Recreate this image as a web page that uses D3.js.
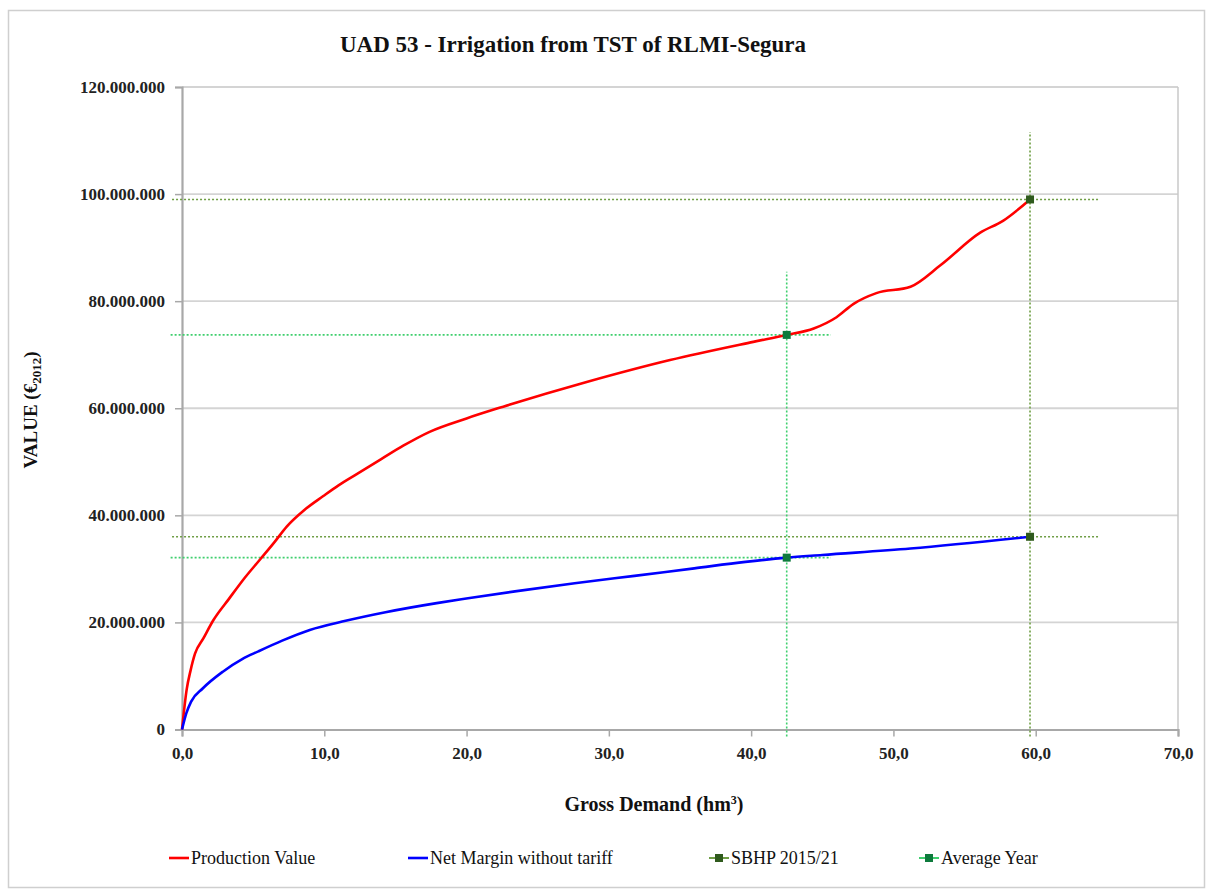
<!DOCTYPE html>
<html><head><meta charset="utf-8">
<script src="https://cdn.jsdelivr.net/npm/d3@7"></script>
<style>
body{margin:0;background:#fff;}
text{font-family:"Liberation Serif","DejaVu Serif",serif;}
</style></head>
<body><svg id="c" width="1206" height="891"></svg>
<script>
// ---- data ----
const title = "UAD 53 - Irrigation from TST of RLMI-Segura";
const xTicks = [0,10,20,30,40,50,60,70];
const yTicks = [0,20e6,40e6,60e6,80e6,100e6,120e6];
const prodX = [0,0.33,0.6,0.92,1.5,2.2,3.3,4.4,5.5,6.5,7.36,8.6,9.93,11.0,12.28,14.0,15.55,17.4,20.0,22.58,28.44,34.3,40.15,42.5,44.4,46.0,47.2,48.8,51.2,53.3,56.1,57.7,59.6];
const prodY = [0,7.5e6,11e6,14.2e6,17.0e6,20.4e6,24.4e6,28.3e6,31.8e6,35.0e6,37.9e6,41.0e6,43.6e6,45.6e6,47.7e6,50.5e6,53.0e6,55.6e6,58.1e6,60.3e6,64.9e6,69.0e6,72.4e6,73.7e6,74.9e6,77.0e6,79.5e6,81.5e6,82.7e6,86.7e6,92.8e6,95.0e6,99.0e6];
const netX = [0,0.3,0.64,1.47,2.87,4.26,5.37,7.04,8.98,11.5,14.3,17.9,20.1,23.4,27.6,31.8,36.0,39.6,42.5,45.0,51.2,59.6];
const netY = [0,3.0e6,5.2e6,7.7e6,10.8e6,13.2e6,14.6e6,16.6e6,18.6e6,20.3e6,21.9e6,23.6e6,24.5e6,25.8e6,27.3e6,28.7e6,30.1e6,31.3e6,32.1e6,32.6e6,33.8e6,36.0e6];
const sbhpX = [59.6,59.6];
const sbhpY = [99.0e6,36.0e6];
const avgX = [42.5,42.5];
const avgY = [73.7e6,32.1e6];
// reference-line extents (data units)
const sbhpHx = [-0.7,64.4];
const sbhpVy = [-1.3e6,111.6e6];
const avgHx = [-0.8,45.6];
const avgVy = [-1.3e6,85.5e6];
const legendLabels = ["Production Value","Net Margin without tariff","SBHP 2015/21","Average Year"];

// ---- layout ----
const svg = d3.select("#c");
const L=182,R=1178,T=87,B=729.5;
const x = d3.scaleLinear().domain([0,70]).range([L,R]);
const y = d3.scaleLinear().domain([0,120e6]).range([B,T]);
const RED="#ff0000",BLUE="#0000ff",SB_LINE="#6f9e45",SB_MK="#2f5a1d",AV_LINE="#3fcf6e",AV_MK="#0d7a3c";

svg.append("rect").attr("x",8.5).attr("y",10.5).attr("width",1196).attr("height",877)
  .attr("fill","none").attr("stroke","#cfcfcf").attr("stroke-width",1.5);

svg.append("text").attr("x",573).attr("y",52).attr("text-anchor","middle")
  .attr("font-size",24).attr("font-weight","bold").attr("textLength",466).attr("lengthAdjust","spacingAndGlyphs")
  .attr("fill","#111").text(title);

// gridlines
svg.append("g").selectAll("line").data(yTicks.filter(d=>d>0)).join("line")
  .attr("x1",L).attr("x2",R).attr("y1",d=>y(d)).attr("y2",d=>y(d))
  .attr("stroke","#d4d4d4").attr("stroke-width",1.8);
// right border
svg.append("line").attr("x1",R).attr("x2",R).attr("y1",T).attr("y2",B).attr("stroke","#c8c8c8").attr("stroke-width",1.5);

// axes
const fmtY = d=> d===0?"0":d3.format(",")(d).replace(/,/g,".");
const yAx = svg.append("g").attr("transform",`translate(${L},0)`)
  .call(d3.axisLeft(y).tickValues(yTicks).tickSize(7).tickPadding(10).tickFormat(fmtY));
yAx.select(".domain").attr("stroke","#a8a8a8").attr("stroke-width",2.2);
yAx.selectAll(".tick line").attr("stroke","#a8a8a8").attr("stroke-width",1.5);
yAx.selectAll("text").attr("font-size",17).attr("font-weight","bold").attr("fill","#222")
  .attr("font-family","Liberation Serif");

const xAx = svg.append("g").attr("transform",`translate(0,${B})`)
  .call(d3.axisBottom(x).tickValues(xTicks).tickSize(7).tickPadding(10).tickFormat(d=>d3.format(".1f")(d).replace(".",",")));
xAx.select(".domain").attr("stroke","#a8a8a8").attr("stroke-width",2.2);
xAx.selectAll(".tick line").attr("stroke","#a8a8a8").attr("stroke-width",1.5);
xAx.selectAll("text").attr("font-size",17).attr("font-weight","bold").attr("fill","#222")
  .attr("font-family","Liberation Serif");

// axis titles
const yt = svg.append("text").attr("transform","translate(37,410) rotate(-90)").attr("text-anchor","middle")
  .attr("font-size",19).attr("font-weight","bold").attr("fill","#111");
yt.append("tspan").text("VALUE  (€");
yt.append("tspan").attr("font-size",13).attr("dy",4).text("2012");
yt.append("tspan").attr("dy",-4).text(")");

const xt = svg.append("text").attr("x",654).attr("y",811).attr("text-anchor","middle")
  .attr("font-size",20).attr("font-weight","bold").attr("fill","#111");
xt.append("tspan").text("Gross Demand (hm");
xt.append("tspan").attr("font-size",12).attr("dy",-7).text("3");
xt.append("tspan").attr("dy",7).text(")");

// reference lines
const refs = svg.append("g").attr("stroke-dasharray","2,2").attr("stroke-width",1.6).attr("fill","none");
sbhpY.forEach(v=>refs.append("line").attr("x1",x(sbhpHx[0])).attr("x2",x(sbhpHx[1])).attr("y1",y(v)).attr("y2",y(v)).attr("stroke",SB_LINE));
refs.append("line").attr("x1",x(sbhpX[0])).attr("x2",x(sbhpX[0])).attr("y1",y(sbhpVy[0])).attr("y2",y(sbhpVy[1])).attr("stroke",SB_LINE);
avgY.forEach(v=>refs.append("line").attr("x1",x(avgHx[0])).attr("x2",x(avgHx[1])).attr("y1",y(v)).attr("y2",y(v)).attr("stroke",AV_LINE));
refs.append("line").attr("x1",x(avgX[0])).attr("x2",x(avgX[0])).attr("y1",y(avgVy[0])).attr("y2",y(avgVy[1])).attr("stroke",AV_LINE);

// series lines
const line = d3.line().x(d=>x(d[0])).y(d=>y(d[1])).curve(d3.curveMonotoneX);
svg.append("path").datum(d3.zip(prodX,prodY)).attr("d",line).attr("fill","none").attr("stroke",RED).attr("stroke-width",2.6);
svg.append("path").datum(d3.zip(netX,netY)).attr("d",line).attr("fill","none").attr("stroke",BLUE).attr("stroke-width",2.6);

// markers
svg.append("g").selectAll("rect").data(d3.zip(avgX,avgY)).join("rect")
  .attr("x",d=>x(d[0])-4).attr("y",d=>y(d[1])-4).attr("width",8).attr("height",8).attr("fill",AV_MK);
svg.append("g").selectAll("rect").data(d3.zip(sbhpX,sbhpY)).join("rect")
  .attr("x",d=>x(d[0])-4).attr("y",d=>y(d[1])-4).attr("width",8).attr("height",8).attr("fill",SB_MK);

// legend
const lg = svg.append("g");
const lx = [169,408,709,919];
const lc = [RED,BLUE,SB_LINE,AV_LINE];
const ly = 858;
legendLabels.forEach((t,i)=>{
  lg.append("line").attr("x1",lx[i]).attr("x2",lx[i]+20).attr("y1",ly).attr("y2",ly).attr("stroke",lc[i]).attr("stroke-width",i<2?2.6:2);
  if(i>=2) lg.append("rect").attr("x",lx[i]+6).attr("y",ly-4).attr("width",8).attr("height",8).attr("fill",i===2?SB_MK:AV_MK);
  lg.append("text").attr("x",lx[i]+22).attr("y",ly+6).attr("font-size",18).attr("fill","#111").text(t);
});
</script></body></html>
